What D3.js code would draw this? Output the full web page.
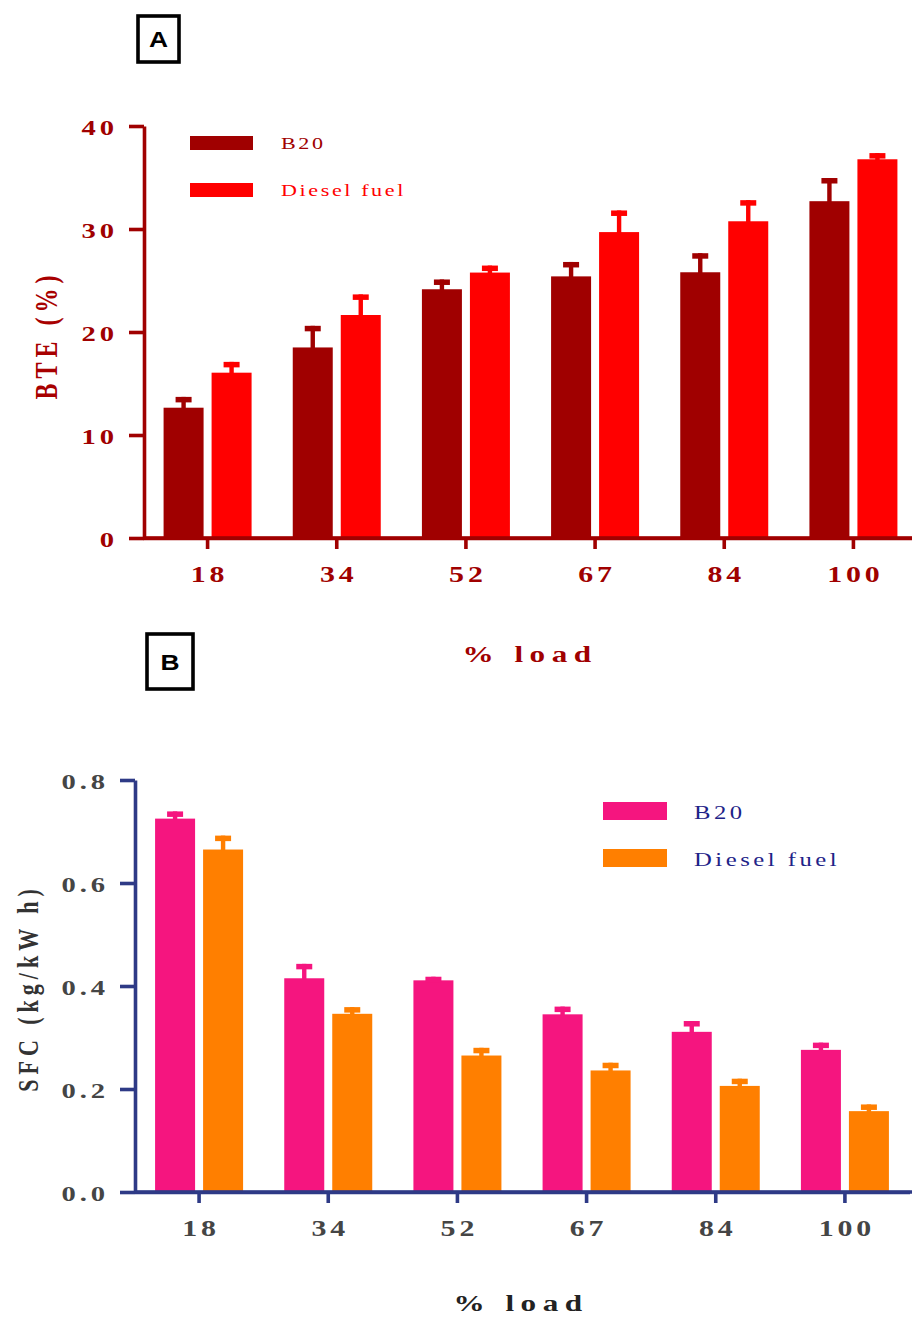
<!DOCTYPE html>
<html>
<head>
<meta charset="utf-8">
<script src="https://cdn.jsdelivr.net/npm/d3@7"></script>
<style>
  html, body { margin: 0; padding: 0; background: #fff; }
  svg { display: block; }
  text { font-family: "Liberation Serif", "Times New Roman", serif; }
</style>
</head>
<body>
<script>
// ---------- DATA ----------
const categories = ["18", "34", "52", "67", "84", "100"];
const seriesNames = ["B20", "Diesel fuel"];

const bteB20 = [12.65, 18.5, 24.15, 25.4, 25.8, 32.7];
const bteB20Err = [1.05, 2.1, 0.95, 1.4, 1.85, 2.25];
const bteDiesel = [16.05, 21.65, 25.77, 29.7, 30.75, 36.77];
const bteDieselErr = [1.05, 2.0, 0.68, 2.1, 2.05, 0.6];
const bteTicks = [0, 10, 20, 30, 40];

const sfcB20 = [0.725, 0.415, 0.411, 0.345, 0.311, 0.276];
const sfcB20Err = [0.014, 0.028, 0.007, 0.015, 0.021, 0.014];
const sfcDiesel = [0.665, 0.346, 0.265, 0.236, 0.206, 0.157];
const sfcDieselErr = [0.027, 0.013, 0.015, 0.015, 0.014, 0.013];
const sfcTicks = [0, 0.2, 0.4, 0.6, 0.8];

// ---------- DRAW ----------
const W = 912, H = 1318;
const SX = 1.3; // horizontal glyph stretch seen in the reference
const svg = d3.select("body").append("svg").attr("width", W).attr("height", H);
svg.append("rect").attr("width", W).attr("height", H).attr("fill", "#fff");

function panel(o) {
  const x0 = d3.scaleBand().domain(categories).range(o.xRange).paddingInner(0).paddingOuter(0);
  const x1 = d3.scaleBand().domain(seriesNames).range([-44, 44]).paddingInner(8 / 48).paddingOuter(0);
  const y = d3.scaleLinear().domain(o.yDomain).range(o.yRange);
  const cx = c => x0(c) + x0.bandwidth() / 2;

  o.series.forEach((s, si) => {
    const name = seriesNames[si];
    const g = svg.append("g");
    const bx = c => cx(c) + x1(name);
    g.selectAll("rect.bar").data(categories).join("rect")
      .attr("class", "bar")
      .attr("x", c => bx(c)).attr("width", x1.bandwidth())
      .attr("y", (c, i) => y(s.v[i])).attr("height", (c, i) => y(o.yDomain[0]) - y(s.v[i]))
      .attr("fill", s.color);
    g.selectAll("rect.stem").data(categories).join("rect")
      .attr("class", "stem")
      .attr("x", c => bx(c) + x1.bandwidth() / 2 - 2.2).attr("width", 4.4)
      .attr("y", (c, i) => y(s.v[i] + s.e[i]))
      .attr("height", (c, i) => y(s.v[i]) - y(s.v[i] + s.e[i]) + 1)
      .attr("fill", s.color);
    g.selectAll("rect.cap").data(categories).join("rect")
      .attr("class", "cap")
      .attr("x", c => bx(c) + x1.bandwidth() / 2 - 8).attr("width", 16)
      .attr("y", (c, i) => y(s.v[i] + s.e[i]))
      .attr("height", 5.5)
      .attr("fill", s.color);
  });

  // Y axis
  const ya = svg.append("g").attr("transform", `translate(${o.axisX},0)`)
    .call(d3.axisLeft(y).tickValues(o.ticks).tickSize(15).tickSizeOuter(0).tickFormat(o.fmt));
  ya.select(".domain").attr("stroke", o.axisColor).attr("stroke-width", 3.6);
  ya.selectAll(".tick line").attr("stroke", o.axisColor).attr("stroke-width", 3.6);
  ya.selectAll(".tick text")
    .attr("x", null).attr("dy", null)
    .attr("transform", `translate(-26,8) scale(${SX},1)`)
    .attr("text-anchor", "end")
    .attr("fill", o.labelColor)
    .style("font-family", "'Liberation Serif', serif")
    .style("font-weight", "bold").style("font-size", "22px").style("letter-spacing", "3px");

  // X axis
  const y0 = y(o.yDomain[0]);
  const xa = svg.append("g").attr("transform", `translate(0,${y0})`)
    .call(d3.axisBottom(x0).tickSize(11).tickSizeOuter(0));
  xa.select(".domain").attr("stroke", o.axisColor).attr("stroke-width", 3.6);
  xa.append("line").attr("x1", o.xRange[0]).attr("x2", W).attr("y1", 0).attr("y2", 0)
    .attr("stroke", o.axisColor).attr("stroke-width", 3.6);
  xa.selectAll(".tick line").attr("stroke", o.axisColor).attr("stroke-width", 3.6);
  xa.selectAll(".tick text")
    .attr("y", null).attr("dy", null)
    .attr("transform", `translate(2,44) scale(${SX},1)`)
    .attr("fill", o.labelColor)
    .style("font-family", "'Liberation Serif', serif")
    .style("font-weight", "bold").style("font-size", "23px").style("letter-spacing", "3px");

  // Axis titles
  svg.append("text")
    .attr("transform", `translate(${o.yTitlePos[0]},${o.yTitlePos[1]}) rotate(-90) scale(1,${SX})`)
    .attr("text-anchor", "middle").attr("dy", "0.35em")
    .attr("fill", o.yTitleColor)
    .style("font-weight", "bold").style("font-size", o.yTitleSize + "px").style("letter-spacing", o.yTitleLs + "px")
    .text(o.yTitle);
  svg.append("text")
    .attr("transform", `translate(${o.xTitlePos[0]},${o.xTitlePos[1]}) scale(${SX},1)`)
    .attr("text-anchor", "middle")
    .attr("fill", o.xTitleColor)
    .style("font-weight", "bold").style("font-size", "24px").style("letter-spacing", "5px")
    .text("% load");

  // Legend
  o.series.forEach((s, si) => {
    const ly = o.legend.y[si];
    svg.append("rect").attr("x", o.legend.x).attr("y", ly).attr("width", o.legend.w).attr("height", o.legend.h)
      .attr("fill", s.color);
    svg.append("text")
      .attr("transform", `translate(${o.legend.tx},${ly + o.legend.h - 1}) scale(${SX},1)`)
      .attr("fill", o.legend.textColors[si])
      .style("font-size", o.legend.fs + "px").style("letter-spacing", o.legend.ls + "px")
      .text(seriesNames[si]);
  });

  // Panel tag box
  svg.append("rect").attr("x", o.tag.x).attr("y", o.tag.y).attr("width", o.tag.w).attr("height", o.tag.h)
    .attr("fill", "none").attr("stroke", "#000").attr("stroke-width", 3.6);
  svg.append("text")
    .attr("transform", `translate(${o.tag.x + o.tag.w / 2},${o.tag.y + o.tag.h / 2 + 8}) scale(1.2,1)`)
    .attr("text-anchor", "middle")
    .style("font-family", "'Liberation Sans', Arial, sans-serif")
    .style("font-weight", "bold").style("font-size", "22px")
    .attr("fill", "#000")
    .text(o.tag.label);
}

panel({
  xRange: [143, 918],
  yDomain: [0, 40], yRange: [538, 126], axisX: 144,
  ticks: bteTicks, fmt: d3.format("d"),
  axisColor: "#a00000", labelColor: "#a00000",
  series: [
    { v: bteB20, e: bteB20Err, color: "#a00000" },
    { v: bteDiesel, e: bteDieselErr, color: "#ff0000" }
  ],
  yTitle: "BTE (%)", yTitlePos: [46, 335], yTitleColor: "#a80000", yTitleSize: 24, yTitleLs: 5,
  xTitlePos: [530, 662], xTitleColor: "#a00000",
  legend: { x: 190, y: [136, 183], w: 63, h: 14, tx: 281, fs: 17, ls: 2, textColors: ["#a00000", "#ff0000"] },
  tag: { x: 138, y: 16, w: 41, h: 46, label: "A" }
});

panel({
  xRange: [134.5, 909.5],
  yDomain: [0, 0.8], yRange: [1192, 780], axisX: 135,
  ticks: sfcTicks, fmt: d3.format(".1f"),
  axisColor: "#2e3a86", labelColor: "#454545",
  series: [
    { v: sfcB20, e: sfcB20Err, color: "#f5157f" },
    { v: sfcDiesel, e: sfcDieselErr, color: "#ff7f00" }
  ],
  yTitle: "SFC (kg/kW h)", yTitlePos: [28, 988], yTitleColor: "#333", yTitleSize: 22, yTitleLs: 5,
  xTitlePos: [521, 1311], xTitleColor: "#222",
  legend: { x: 603, y: [802, 849], w: 64, h: 18, tx: 694, fs: 19, ls: 2.7, textColors: ["#1e2388", "#1e2388"] },
  tag: { x: 147, y: 634, w: 46, h: 55, label: "B" }
});
</script>
</body>
</html>
